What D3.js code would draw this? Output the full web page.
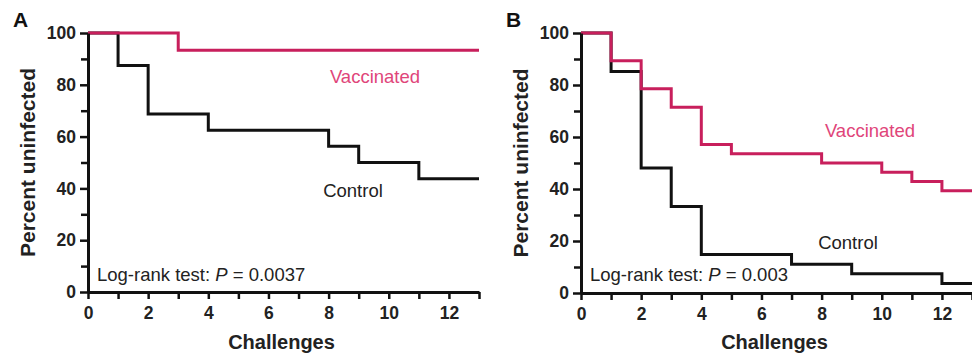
<!DOCTYPE html>
<html>
<head>
<meta charset="utf-8">
<script src="https://cdn.jsdelivr.net/npm/d3@7"></script>
<style>
  body { margin: 0; background: #fff; }
  svg { font-family: "Liberation Sans", Arial, sans-serif; }
</style>
</head>
<body>
<div id="chart"></div>
<script>
// data (challenge number, percent uninfected)
const aVaccX = [0, 3, 13];
const aVaccY = [100, 93.3, 93.3];
const aCtrlX = [0, 1, 2, 4, 8, 9, 11, 13];
const aCtrlY = [100, 87.5, 68.75, 62.5, 56.25, 50, 43.75, 43.75];

const bVaccX = [0, 1, 2, 3, 4, 5, 8, 10, 11, 12, 13];
const bVaccY = [100, 89.3, 78.6, 71.4, 57.1, 53.6, 50, 46.4, 42.9, 39.3, 39.3];
const bCtrlX = [0, 1, 2, 3, 4, 7, 9, 12, 13];
const bCtrlY = [100, 85.2, 48.1, 33.3, 14.8, 11.1, 7.4, 3.7, 3.7];

const xMajor = [0, 2, 4, 6, 8, 10, 12];
const xMinor = [1, 3, 5, 7, 9, 11, 13];
const yMajor = [0, 20, 40, 60, 80, 100];
const yMinor = [10, 30, 50, 70, 90];

const panels = [
  {letter: 'A', vx: aVaccX, vy: aVaccY, cx: aCtrlX, cy: aCtrlY, pval: '0.0037',
   left: 88, right: 479, top: 33, bottom: 292,
   vaccLab: [375, 83], ctrlLab: [353, 197]},
  {letter: 'B', vx: bVaccX, vy: bVaccY, cx: bCtrlX, cy: bCtrlY, pval: '0.003',
   left: 581, right: 972, top: 33, bottom: 293,
   vaccLab: [870, 137], ctrlLab: [848, 249]}
];

const pink = '#c81f5c';

const svg = d3.select('#chart').append('svg')
  .attr('width', 972)
  .attr('height', 360);

panels.forEach(p => {
  const x = d3.scaleLinear().domain([0, 13]).range([p.left, p.right]);
  const y = d3.scaleLinear().domain([0, 100]).range([p.bottom, p.top]);
  const g = svg.append('g');

  const line = d3.line()
    .x(d => x(d[0]))
    .y(d => y(d[1]))
    .curve(d3.curveStepAfter);

  g.append('path')
    .datum(p.cx.map((v, i) => [v, p.cy[i]]))
    .attr('d', line)
    .attr('fill', 'none')
    .attr('stroke', '#111')
    .attr('stroke-width', 3);

  g.append('path')
    .datum(p.vx.map((v, i) => [v, p.vy[i]]))
    .attr('d', line)
    .attr('fill', 'none')
    .attr('stroke', pink)
    .attr('stroke-width', 3);

  // minor ticks
  g.append('g')
    .attr('transform', 'translate(0,' + p.bottom + ')')
    .call(d3.axisBottom(x).tickValues(xMinor).tickSize(7).tickSizeOuter(0).tickFormat(''))
    .call(a => a.select('.domain').remove());
  g.append('g')
    .attr('transform', 'translate(' + p.left + ',0)')
    .call(d3.axisLeft(y).tickValues(yMinor).tickSize(7).tickSizeOuter(0).tickFormat(''))
    .call(a => a.select('.domain').remove());

  // major ticks with labels
  g.append('g')
    .attr('transform', 'translate(0,' + p.bottom + ')')
    .call(d3.axisBottom(x).tickValues(xMajor).tickSize(7).tickSizeOuter(0).tickPadding(8));
  g.append('g')
    .attr('transform', 'translate(' + p.left + ',0)')
    .call(d3.axisLeft(y).tickValues(yMajor).tickSize(8).tickSizeOuter(0).tickPadding(4));

  g.selectAll('.domain').attr('stroke', '#111').attr('stroke-width', 3);
  g.selectAll('.tick line').attr('stroke', '#111').attr('stroke-width', 2.5);
  g.selectAll('.tick text')
    .attr('font-family', '"Liberation Sans", Arial, sans-serif')
    .attr('font-size', 17.5)
    .attr('font-weight', 'bold')
    .attr('fill', '#222');

  // panel letter
  svg.append('text')
    .attr('x', p.left - 75)
    .attr('y', 27)
    .attr('font-size', 21)
    .attr('font-weight', 'bold')
    .attr('fill', '#111')
    .text(p.letter);

  // axis titles
  svg.append('text')
    .attr('x', (p.left + p.right) / 2 - 2)
    .attr('y', 349)
    .attr('text-anchor', 'middle')
    .attr('font-size', 20)
    .attr('font-weight', 'bold')
    .attr('fill', '#222')
    .text('Challenges');

  svg.append('text')
    .attr('transform', 'translate(' + (p.left - 53) + ',' + ((p.top + p.bottom) / 2) + ') rotate(-90)')
    .attr('text-anchor', 'middle')
    .attr('font-size', 21)
    .attr('font-weight', 'bold')
    .attr('fill', '#222')
    .text('Percent uninfected');

  // series labels
  svg.append('text')
    .attr('x', p.vaccLab[0])
    .attr('y', p.vaccLab[1])
    .attr('text-anchor', 'middle')
    .attr('font-size', 18.5)
    .attr('fill', '#e0457a')
    .text('Vaccinated');

  svg.append('text')
    .attr('x', p.ctrlLab[0])
    .attr('y', p.ctrlLab[1])
    .attr('text-anchor', 'middle')
    .attr('font-size', 18.5)
    .attr('fill', '#222')
    .text('Control');

  const t = svg.append('text')
    .attr('x', p.left + 9)
    .attr('y', 281)
    .attr('font-size', 18.5)
    .attr('fill', '#222');
  t.append('tspan').text('Log-rank test: ');
  t.append('tspan').attr('font-style', 'italic').text('P');
  t.append('tspan').text(' = ' + p.pval);
});
</script>
</body>
</html>
